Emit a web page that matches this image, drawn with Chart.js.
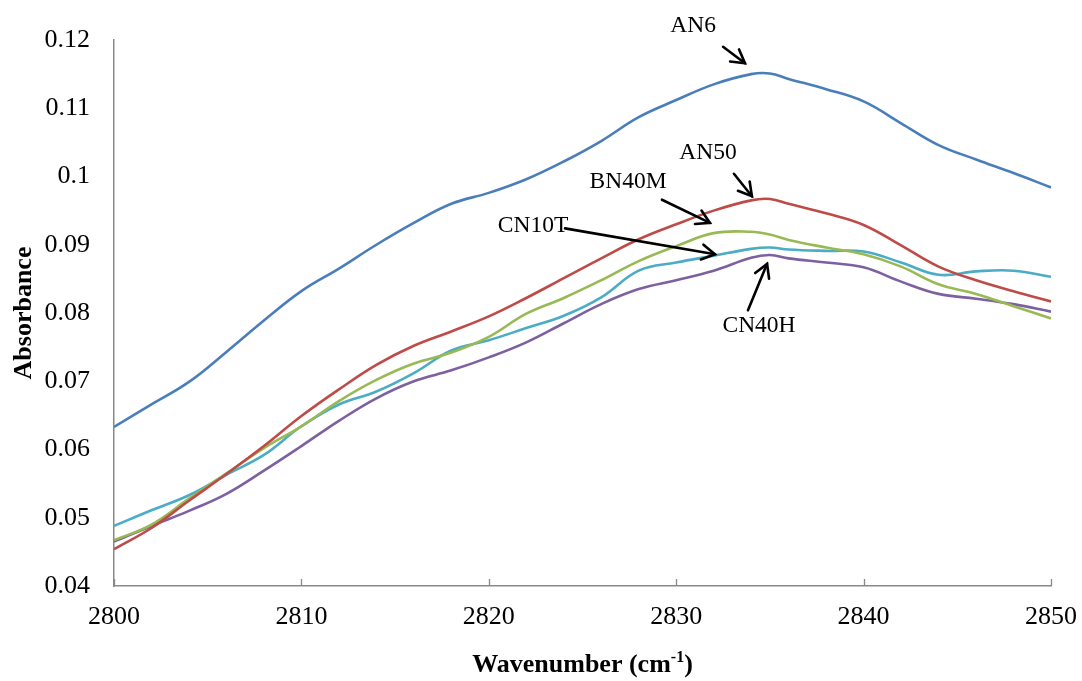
<!DOCTYPE html>
<html>
<head>
<meta charset="utf-8">
<script src="https://cdn.jsdelivr.net/npm/chart.js@4/dist/chart.umd.min.js"></script>
<style>
  html, body { margin: 0; padding: 0; background: #ffffff; }
  #wrap { width: 1082px; height: 681px; }
</style>
</head>
<body>
<div id="wrap"><canvas id="c" width="1082" height="681"></canvas></div>
<script>
// FTIR spectra, C–H stretching region
const wavenumbers = [2800, 2802, 2804, 2806, 2808, 2810, 2812, 2814, 2816, 2818, 2820,
  2822, 2824, 2826, 2828, 2830, 2832, 2834, 2835, 2836, 2838, 2840, 2842, 2844, 2846, 2848, 2850];

const an6 = [0.0633, 0.0666, 0.0699, 0.0743, 0.0789, 0.0832, 0.0865, 0.0900, 0.0932, 0.0960, 0.0976,
  0.0996, 0.1022, 0.1052, 0.1087, 0.1112, 0.1135, 0.1150, 0.1151, 0.1143, 0.1128, 0.1110, 0.1078, 0.1046, 0.1025, 0.1005, 0.0984];
const an50 = [0.0454, 0.0485, 0.0525, 0.0564, 0.0605, 0.0649, 0.0688, 0.0724, 0.0752, 0.0773, 0.0795,
  0.0822, 0.0851, 0.0880, 0.0908, 0.0930, 0.0950, 0.0965, 0.0967, 0.0960, 0.0946, 0.0929, 0.0899, 0.0868, 0.0848, 0.0832, 0.0817];
const bn40m = [0.0467, 0.0490, 0.0528, 0.0565, 0.0602, 0.0634, 0.0671, 0.0702, 0.0726, 0.0742, 0.0765,
  0.0799, 0.0822, 0.0848, 0.0876, 0.0898, 0.0917, 0.0919, 0.0915, 0.0907, 0.0896, 0.0886, 0.0868, 0.0842, 0.0828, 0.0810, 0.0792];
const cn10t = [0.0488, 0.0511, 0.0533, 0.0563, 0.0592, 0.0634, 0.0666, 0.0685, 0.0712, 0.0745, 0.0760,
  0.0778, 0.0796, 0.0823, 0.0862, 0.0874, 0.0884, 0.0894, 0.0896, 0.0893, 0.0891, 0.0890, 0.0874, 0.0856, 0.0861, 0.0862, 0.0853];
const cn40h = [0.0465, 0.0488, 0.0510, 0.0535, 0.0569, 0.0605, 0.0642, 0.0675, 0.0700, 0.0716, 0.0735,
  0.0757, 0.0785, 0.0813, 0.0835, 0.0848, 0.0862, 0.0881, 0.0885, 0.0880, 0.0874, 0.0867, 0.0846, 0.0828, 0.0821, 0.0813, 0.0802];

const xTicks = [2800, 2810, 2820, 2830, 2840, 2850];
const yTicks = [0.04, 0.05, 0.06, 0.07, 0.08, 0.09, 0.1, 0.11, 0.12];

// Callouts: label position and arrow (tail -> head), in axis units
const callouts = [
  { text: 'AN6',   at: [2830.90, 0.1221], from: [2832.50, 0.1190], to: [2833.67, 0.1166] },
  { text: 'AN50',  at: [2831.70, 0.1034], from: [2833.08, 0.1004], to: [2834.04, 0.0971] },
  { text: 'BN40M', at: [2827.43, 0.0992], from: [2829.24, 0.0966], to: [2831.80, 0.0932] },
  { text: 'CN10T', at: [2822.36, 0.0927], from: [2824.07, 0.0924], to: [2832.07, 0.0886] },
  { text: 'CN40H', at: [2834.42, 0.0781], from: [2833.83, 0.0804], to: [2834.85, 0.0872] }
];

const SERIF = '"Liberation Serif", "Times New Roman", serif';
const AXIS_GREY = '#898989';

function points(values) {
  return wavenumbers.map((w, i) => ({ x: w, y: values[i] }));
}

function series(label, values, color) {
  return {
    label: label,
    data: points(values),
    borderColor: color,
    backgroundColor: color,
    borderWidth: 2.6,
    pointRadius: 0,
    tension: 0.4,
    fill: false
  };
}

// Small inward tick marks on the horizontal axis
const innerTicks = {
  id: 'innerTicks',
  afterDatasetsDraw(chart) {
    const ctx = chart.ctx;
    const xs = chart.scales.x;
    const base = chart.chartArea.bottom;
    ctx.save();
    ctx.strokeStyle = AXIS_GREY;
    ctx.lineWidth = 1.3;
    xTicks.forEach(v => {
      const px = Math.round(xs.getPixelForValue(v)) + 0.5;
      ctx.beginPath();
      ctx.moveTo(px, base);
      ctx.lineTo(px, base - 7);
      ctx.stroke();
    });
    ctx.restore();
  }
};

// Sample labels with pointer arrows
const calloutPlugin = {
  id: 'callouts',
  afterDatasetsDraw(chart) {
    const ctx = chart.ctx;
    const xs = chart.scales.x, ys = chart.scales.y;
    const P = p => [xs.getPixelForValue(p[0]), ys.getPixelForValue(p[1])];
    ctx.save();
    ctx.fillStyle = '#000';
    ctx.strokeStyle = '#000';
    ctx.lineWidth = 2.6;
    ctx.lineCap = 'round';
    ctx.font = '23.5px ' + SERIF;
    ctx.textAlign = 'center';
    ctx.textBaseline = 'middle';
    callouts.forEach(c => {
      const [tx, ty] = P(c.at);
      ctx.fillText(c.text, tx, ty);
      const [x1, y1] = P(c.from);
      const [x2, y2] = P(c.to);
      ctx.beginPath();
      ctx.moveTo(x1, y1);
      ctx.lineTo(x2, y2);
      ctx.stroke();
      const ang = Math.atan2(y2 - y1, x2 - x1);
      const len = 15, spread = Math.PI / 6;
      ctx.beginPath();
      ctx.moveTo(x2 - len * Math.cos(ang - spread), y2 - len * Math.sin(ang - spread));
      ctx.lineTo(x2, y2);
      ctx.lineTo(x2 - len * Math.cos(ang + spread), y2 - len * Math.sin(ang + spread));
      ctx.stroke();
    });
    ctx.restore();
  }
};

// Horizontal axis title with superscript unit
const xTitle = {
  id: 'xTitle',
  afterDraw(chart) {
    const ctx = chart.ctx;
    const area = chart.chartArea;
    const main = 'Wavenumber (cm';
    const sup = '-1';
    const tail = ')';
    const big = 'bold 26px ' + SERIF;
    const small = 'bold 16px ' + SERIF;
    ctx.save();
    ctx.fillStyle = '#000';
    ctx.textBaseline = 'alphabetic';
    ctx.font = big;
    const w1 = ctx.measureText(main).width;
    const w3 = ctx.measureText(tail).width;
    ctx.font = small;
    const w2 = ctx.measureText(sup).width;
    const total = w1 + w2 + w3;
    let x = (area.left + area.right) / 2 - total / 2;
    const base = 672;
    ctx.textAlign = 'left';
    ctx.font = big;
    ctx.fillText(main, x, base);
    x += w1;
    ctx.font = small;
    ctx.fillText(sup, x, base - 10);
    x += w2;
    ctx.font = big;
    ctx.fillText(tail, x, base);
    ctx.restore();
  }
};

new Chart(document.getElementById('c'), {
  type: 'line',
  data: {
    datasets: [
      series('AN6', an6, '#4A7EBB'),
      series('AN50', an50, '#BE4B48'),
      series('BN40M', bn40m, '#98B954'),
      series('CN10T', cn10t, '#4BACC6'),
      series('CN40H', cn40h, '#7D60A0')
    ]
  },
  options: {
    responsive: false,
    devicePixelRatio: 1,
    animation: false,
    layout: { padding: { top: 40, right: 31, left: 0, bottom: 0 } },
    plugins: { legend: { display: false }, tooltip: { enabled: false } },
    scales: {
      x: {
        type: 'linear',
        min: 2800,
        max: 2850,
        afterFit(s) { s.height = 95; s.paddingLeft = 0; s.paddingRight = 0; },
        afterBuildTicks(s) { s.ticks = xTicks.map(v => ({ value: v })); },
        grid: { display: false, drawTicks: false },
        border: { display: true, color: AXIS_GREY, width: 1.5 },
        ticks: {
          color: '#000',
          padding: 16,
          maxRotation: 0,
          font: { family: SERIF, size: 26 },
          callback: v => String(v)
        }
      },
      y: {
        min: 0.04,
        max: 0.12,
        afterFit(s) { s.width = 114; s.paddingTop = 0; s.paddingBottom = 0; },
        afterBuildTicks(s) { s.ticks = yTicks.map(v => ({ value: v })); },
        grid: { display: false, drawTicks: false },
        border: { display: true, color: AXIS_GREY, width: 1.5 },
        ticks: {
          color: '#000',
          padding: 24,
          font: { family: SERIF, size: 26 },
          callback: v => String(+Number(v).toFixed(2))
        },
        title: {
          display: true,
          text: 'Absorbance',
          color: '#000',
          padding: { top: 9, bottom: 0 },
          font: { family: SERIF, size: 26, weight: 'bold' }
        }
      }
    }
  },
  plugins: [innerTicks, calloutPlugin, xTitle]
});
</script>
</body>
</html>
